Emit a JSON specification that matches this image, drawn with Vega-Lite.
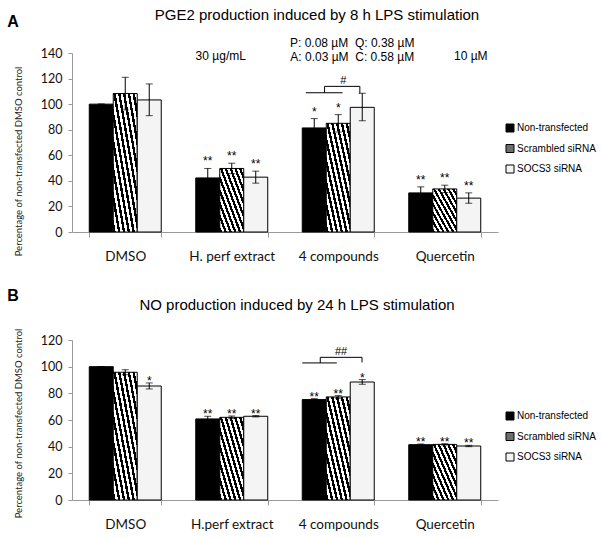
{
  "$schema": "https://vega.github.io/schema/vega-lite/v6.json",
  "background": "white",
  "padding": {"left": 7, "right": 5, "top": 8, "bottom": 5},
  "config": {"font": "Liberation Sans", "view": {"stroke": null}, "title": {"fontWeight": "normal", "color": "#000"}, "axisY": {"labelOverlap": false}},
  "datasets": {
    "a": [
      {"g": "DMSO", "s": "Non-transfected", "v": 100, "lo": 100, "hi": 100, "star": ""},
      {"g": "DMSO", "s": "Scrambled siRNA", "v": 108.3, "lo": 95.5, "hi": 121, "star": ""},
      {"g": "DMSO", "s": "SOCS3 siRNA", "v": 103.3, "lo": 91, "hi": 115.8, "star": ""},
      {"g": "H. perf extract", "s": "Non-transfected", "v": 42.3, "lo": 35, "hi": 49.7, "star": "**"},
      {"g": "H. perf extract", "s": "Scrambled siRNA", "v": 49.7, "lo": 45.6, "hi": 53.8, "star": "**"},
      {"g": "H. perf extract", "s": "SOCS3 siRNA", "v": 42.9, "lo": 38.2, "hi": 47.6, "star": "**"},
      {"g": "4 compounds", "s": "Non-transfected", "v": 81.4, "lo": 74, "hi": 88.7, "star": "*"},
      {"g": "4 compounds", "s": "Scrambled siRNA", "v": 85, "lo": 78.2, "hi": 91.8, "star": "*"},
      {"g": "4 compounds", "s": "SOCS3 siRNA", "v": 97.5, "lo": 87, "hi": 108.5, "star": ""},
      {"g": "Quercetin", "s": "Non-transfected", "v": 30.6, "lo": 26, "hi": 35.3, "star": "**"},
      {"g": "Quercetin", "s": "Scrambled siRNA", "v": 33.7, "lo": 30.8, "hi": 36.6, "star": "**"},
      {"g": "Quercetin", "s": "SOCS3 siRNA", "v": 26.5, "lo": 22.5, "hi": 30.6, "star": "**"}
    ],
    "b": [
      {"g": "DMSO", "s": "Non-transfected", "v": 100, "lo": 100, "hi": 100, "star": ""},
      {"g": "DMSO", "s": "Scrambled siRNA", "v": 95.8, "lo": 94, "hi": 97.7, "star": ""},
      {"g": "DMSO", "s": "SOCS3 siRNA", "v": 85.5, "lo": 83.3, "hi": 87.8, "star": "*"},
      {"g": "H.perf extract", "s": "Non-transfected", "v": 60.8, "lo": 58.8, "hi": 62.8, "star": "**"},
      {"g": "H.perf extract", "s": "Scrambled siRNA", "v": 62, "lo": 61, "hi": 63, "star": "**"},
      {"g": "H.perf extract", "s": "SOCS3 siRNA", "v": 62.8, "lo": 62.3, "hi": 63.3, "star": "**"},
      {"g": "4 compounds", "s": "Non-transfected", "v": 75.3, "lo": 74.5, "hi": 76, "star": "**"},
      {"g": "4 compounds", "s": "Scrambled siRNA", "v": 77.3, "lo": 76.3, "hi": 78.3, "star": "**"},
      {"g": "4 compounds", "s": "SOCS3 siRNA", "v": 88.5, "lo": 86.8, "hi": 90.3, "star": "*"},
      {"g": "Quercetin", "s": "Non-transfected", "v": 41.5, "lo": 41, "hi": 42, "star": "**"},
      {"g": "Quercetin", "s": "Scrambled siRNA", "v": 41.7, "lo": 41.2, "hi": 42.2, "star": "**"},
      {"g": "Quercetin", "s": "SOCS3 siRNA", "v": 40.5, "lo": 40, "hi": 41, "star": "**"}
    ],
    "annA": [
      {"g": "H. perf extract", "y": 137.4, "t": "30 µg/mL"},
      {"g": "4 compounds", "y": 147.6, "t": "P: 0.08 µM\u00a0\u00a0Q: 0.38 µM"},
      {"g": "4 compounds", "y": 136.7, "t": "A: 0.03 µM\u00a0\u00a0C: 0.58 µM"},
      {"g": "Quercetin", "y": 137.4, "t": "10 µM"}
    ],
    "brA": [{"g": "4 compounds", "base": 108.9, "top": 113.9, "foot": 108.3, "mark": "#", "my": 115.5}],
    "brB": [{"g": "4 compounds", "base": 102.8, "top": 107, "foot": 103.2, "mark": "##", "my": 108.6}]
  },
  "resolve": {"scale": {"x": "independent", "y": "independent"}, "legend": {"fill": "independent"}},
  "spacing": 25,
  "vconcat": [
    {
      "title": {"text": "A", "anchor": "start", "fontSize": 16, "fontWeight": "bold", "offset": -22, "dx": -6},
      "resolve": {"legend": {"fill": "independent"}},
      "vconcat": [
        {
          "title": {"text": "PGE2 production induced by 8 h LPS stimulation", "fontSize": 15, "dx": 32, "offset": 14},
          "width": 426,
          "height": 179,
          "layer": [
            {
              "data": {"name": "a"},
              "mark": {"type": "bar", "stroke": "#000", "strokeWidth": 1},
              "encoding": {
                "x": {"field": "g", "type": "nominal", "sort": null, "title": null,
                  "scale": {"paddingInner": 0.324, "paddingOuter": 0.162},
                  "axis": {"labelAngle": 0, "labelFont": "Lato", "labelFontSize": 13.5, "labelColor": "#111", "labelPadding": 12, "tickSize": 5, "tickBand": "extent", "domainColor": "#999", "tickColor": "#999"}},
                "xOffset": {"field": "s", "type": "nominal", "sort": ["Non-transfected", "Scrambled siRNA", "SOCS3 siRNA"], "scale": {"paddingInner": 0, "paddingOuter": 0}},
                "y": {"field": "v", "type": "quantitative", "scale": {"domain": [0, 140]},
                  "axis": {"values": [0, 20, 40, 60, 80, 100, 120, 140], "labelOverlap": false, "grid": false, "labelFont": "Lato", "labelFontSize": 12.5, "labelColor": "#111", "labelPadding": 6, "tickSize": 4, "domainColor": "#999", "tickColor": "#999", "title": "Percentage of non-transfected DMSO control", "titleFont": "Lato", "titleFontSize": 9.5, "titleFontWeight": "normal", "titleColor": "#222", "titlePadding": 17, "titleY": 108}},
                "fill": {
                  "condition": {"test": "datum.s === 'Scrambled siRNA'", "value": {"gradient": "linear", "x1": 0, "y1": 1, "x2": 1, "y2": 0, "stops": [
                    {"offset": 0, "color": "#000"}, {"offset": 0.05, "color": "#000"}, {"offset": 0.05, "color": "#fff"}, {"offset": 0.1, "color": "#fff"},
                    {"offset": 0.1, "color": "#000"}, {"offset": 0.15, "color": "#000"}, {"offset": 0.15, "color": "#fff"}, {"offset": 0.2, "color": "#fff"},
                    {"offset": 0.2, "color": "#000"}, {"offset": 0.25, "color": "#000"}, {"offset": 0.25, "color": "#fff"}, {"offset": 0.3, "color": "#fff"},
                    {"offset": 0.3, "color": "#000"}, {"offset": 0.35, "color": "#000"}, {"offset": 0.35, "color": "#fff"}, {"offset": 0.4, "color": "#fff"},
                    {"offset": 0.4, "color": "#000"}, {"offset": 0.45, "color": "#000"}, {"offset": 0.45, "color": "#fff"}, {"offset": 0.5, "color": "#fff"},
                    {"offset": 0.5, "color": "#000"}, {"offset": 0.55, "color": "#000"}, {"offset": 0.55, "color": "#fff"}, {"offset": 0.6, "color": "#fff"},
                    {"offset": 0.6, "color": "#000"}, {"offset": 0.65, "color": "#000"}, {"offset": 0.65, "color": "#fff"}, {"offset": 0.7, "color": "#fff"},
                    {"offset": 0.7, "color": "#000"}, {"offset": 0.75, "color": "#000"}, {"offset": 0.75, "color": "#fff"}, {"offset": 0.8, "color": "#fff"},
                    {"offset": 0.8, "color": "#000"}, {"offset": 0.85, "color": "#000"}, {"offset": 0.85, "color": "#fff"}, {"offset": 0.9, "color": "#fff"},
                    {"offset": 0.9, "color": "#000"}, {"offset": 0.95, "color": "#000"}, {"offset": 0.95, "color": "#fff"}, {"offset": 1, "color": "#fff"}]}},
                  "field": "s", "type": "nominal", "sort": ["Non-transfected", "Scrambled siRNA", "SOCS3 siRNA"],
                  "scale": {"domain": ["Non-transfected", "Scrambled siRNA", "SOCS3 siRNA"], "range": ["#000000", "#6e6e6e", "#f4f4f4"]},
                  "legend": {"title": null, "orient": "none", "legendX": 433, "legendY": 70, "symbolType": "square", "symbolSize": 64, "symbolStrokeColor": "#000", "symbolStrokeWidth": 1, "labelFontSize": 10, "labelColor": "#000", "labelOffset": 2, "rowPadding": 8.5}}
              }
            },
            {
              "data": {"name": "a"},
              "mark": {"type": "rule", "stroke": "#000", "strokeWidth": 1},
              "encoding": {
                "x": {"field": "g", "type": "nominal", "sort": null},
                "xOffset": {"field": "s", "type": "nominal", "sort": ["Non-transfected", "Scrambled siRNA", "SOCS3 siRNA"]},
                "y": {"field": "lo", "type": "quantitative",
                  "axis": {"values": [0, 20, 40, 60, 80, 100, 120, 140], "labelOverlap": false, "grid": false, "labelFont": "Lato", "labelFontSize": 12.5, "labelColor": "#111", "labelPadding": 6, "tickSize": 4, "domainColor": "#999", "tickColor": "#999", "title": "Percentage of non-transfected DMSO control", "titleFont": "Lato", "titleFontSize": 9.5, "titleFontWeight": "normal", "titleColor": "#222", "titlePadding": 17, "titleY": 108}},
                "y2": {"field": "hi"}
              }
            },
            {
              "data": {"name": "a"},
              "mark": {"type": "tick", "color": "#000", "thickness": 1, "size": 7, "orient": "horizontal"},
              "encoding": {
                "x": {"field": "g", "type": "nominal", "sort": null},
                "xOffset": {"field": "s", "type": "nominal", "sort": ["Non-transfected", "Scrambled siRNA", "SOCS3 siRNA"]},
                "y": {"field": "hi", "type": "quantitative",
                  "axis": {"values": [0, 20, 40, 60, 80, 100, 120, 140], "labelOverlap": false, "grid": false, "labelFont": "Lato", "labelFontSize": 12.5, "labelColor": "#111", "labelPadding": 6, "tickSize": 4, "domainColor": "#999", "tickColor": "#999", "title": "Percentage of non-transfected DMSO control", "titleFont": "Lato", "titleFontSize": 9.5, "titleFontWeight": "normal", "titleColor": "#222", "titlePadding": 17, "titleY": 108}}
              }
            },
            {
              "data": {"name": "a"},
              "mark": {"type": "tick", "color": "#000", "thickness": 1, "size": 7, "orient": "horizontal"},
              "encoding": {
                "x": {"field": "g", "type": "nominal", "sort": null},
                "xOffset": {"field": "s", "type": "nominal", "sort": ["Non-transfected", "Scrambled siRNA", "SOCS3 siRNA"]},
                "y": {"field": "lo", "type": "quantitative",
                  "axis": {"values": [0, 20, 40, 60, 80, 100, 120, 140], "labelOverlap": false, "grid": false, "labelFont": "Lato", "labelFontSize": 12.5, "labelColor": "#111", "labelPadding": 6, "tickSize": 4, "domainColor": "#999", "tickColor": "#999", "title": "Percentage of non-transfected DMSO control", "titleFont": "Lato", "titleFontSize": 9.5, "titleFontWeight": "normal", "titleColor": "#222", "titlePadding": 17, "titleY": 108}}
              }
            },
            {
              "data": {"name": "a"},
              "mark": {"type": "text", "fontSize": 12, "baseline": "alphabetic", "dy": -3},
              "encoding": {
                "x": {"field": "g", "type": "nominal", "sort": null},
                "xOffset": {"field": "s", "type": "nominal", "sort": ["Non-transfected", "Scrambled siRNA", "SOCS3 siRNA"]},
                "y": {"field": "hi", "type": "quantitative",
                  "axis": {"values": [0, 20, 40, 60, 80, 100, 120, 140], "labelOverlap": false, "grid": false, "labelFont": "Lato", "labelFontSize": 12.5, "labelColor": "#111", "labelPadding": 6, "tickSize": 4, "domainColor": "#999", "tickColor": "#999", "title": "Percentage of non-transfected DMSO control", "titleFont": "Lato", "titleFontSize": 9.5, "titleFontWeight": "normal", "titleColor": "#222", "titlePadding": 17, "titleY": 108}},
                "text": {"field": "star"}
              }
            },
            {
              "mark": {"type": "rule", "stroke": "#000", "strokeWidth": 1, "strokeDash": [3, 2]},
              "encoding": {
                "x": {"datum": "DMSO", "bandPosition": -0.24},
                "x2": {"datum": "Quercetin", "bandPosition": 1.02},
                "y": {"datum": 100,
                  "axis": {"values": [0, 20, 40, 60, 80, 100, 120, 140], "labelOverlap": false, "grid": false, "labelFont": "Lato", "labelFontSize": 12.5, "labelColor": "#111", "labelPadding": 6, "tickSize": 4, "domainColor": "#999", "tickColor": "#999", "title": "Percentage of non-transfected DMSO control", "titleFont": "Lato", "titleFontSize": 9.5, "titleFontWeight": "normal", "titleColor": "#222", "titlePadding": 17, "titleY": 108}}
              }
            },
            {
              "data": {"name": "annA"},
              "transform": [{"filter": "datum.g == 'H. perf extract'"}],
              "mark": {"type": "text", "fontSize": 12, "dx": -11, "baseline": "middle"},
              "encoding": {
                "x": {"field": "g", "type": "nominal", "sort": null},
                "y": {"field": "y", "type": "quantitative",
                  "axis": {"values": [0, 20, 40, 60, 80, 100, 120, 140], "labelOverlap": false, "grid": false, "labelFont": "Lato", "labelFontSize": 12.5, "labelColor": "#111", "labelPadding": 6, "tickSize": 4, "domainColor": "#999", "tickColor": "#999", "title": "Percentage of non-transfected DMSO control", "titleFont": "Lato", "titleFontSize": 9.5, "titleFontWeight": "normal", "titleColor": "#222", "titlePadding": 17, "titleY": 108}},
                "text": {"field": "t"}
              }
            },
            {
              "data": {"name": "annA"},
              "transform": [{"filter": "datum.g == '4 compounds'"}],
              "mark": {"type": "text", "fontSize": 12, "dx": 14, "baseline": "middle"},
              "encoding": {
                "x": {"field": "g", "type": "nominal", "sort": null},
                "y": {"field": "y", "type": "quantitative",
                  "axis": {"values": [0, 20, 40, 60, 80, 100, 120, 140], "labelOverlap": false, "grid": false, "labelFont": "Lato", "labelFontSize": 12.5, "labelColor": "#111", "labelPadding": 6, "tickSize": 4, "domainColor": "#999", "tickColor": "#999", "title": "Percentage of non-transfected DMSO control", "titleFont": "Lato", "titleFontSize": 9.5, "titleFontWeight": "normal", "titleColor": "#222", "titlePadding": 17, "titleY": 108}},
                "text": {"field": "t"}
              }
            },
            {
              "data": {"name": "annA"},
              "transform": [{"filter": "datum.g == 'Quercetin'"}],
              "mark": {"type": "text", "fontSize": 12, "dx": 26, "baseline": "middle"},
              "encoding": {
                "x": {"field": "g", "type": "nominal", "sort": null},
                "y": {"field": "y", "type": "quantitative",
                  "axis": {"values": [0, 20, 40, 60, 80, 100, 120, 140], "labelOverlap": false, "grid": false, "labelFont": "Lato", "labelFontSize": 12.5, "labelColor": "#111", "labelPadding": 6, "tickSize": 4, "domainColor": "#999", "tickColor": "#999", "title": "Percentage of non-transfected DMSO control", "titleFont": "Lato", "titleFontSize": 9.5, "titleFontWeight": "normal", "titleColor": "#222", "titlePadding": 17, "titleY": 108}},
                "text": {"field": "t"}
              }
            },
            {
              "data": {"name": "brA"},
              "mark": {"type": "rule", "stroke": "#000", "strokeWidth": 1},
              "encoding": {
                "x": {"field": "g", "type": "nominal", "sort": null, "bandPosition": 0.05},
                "x2": {"field": "g", "bandPosition": 0.56},
                "y": {"field": "base", "type": "quantitative",
                  "axis": {"values": [0, 20, 40, 60, 80, 100, 120, 140], "labelOverlap": false, "grid": false, "labelFont": "Lato", "labelFontSize": 12.5, "labelColor": "#111", "labelPadding": 6, "tickSize": 4, "domainColor": "#999", "tickColor": "#999", "title": "Percentage of non-transfected DMSO control", "titleFont": "Lato", "titleFontSize": 9.5, "titleFontWeight": "normal", "titleColor": "#222", "titlePadding": 17, "titleY": 108}}
              }
            },
            {
              "data": {"name": "brA"},
              "mark": {"type": "rule", "stroke": "#000", "strokeWidth": 1},
              "encoding": {
                "x": {"field": "g", "type": "nominal", "sort": null, "bandPosition": 0.31},
                "y": {"field": "base", "type": "quantitative",
                  "axis": {"values": [0, 20, 40, 60, 80, 100, 120, 140], "labelOverlap": false, "grid": false, "labelFont": "Lato", "labelFontSize": 12.5, "labelColor": "#111", "labelPadding": 6, "tickSize": 4, "domainColor": "#999", "tickColor": "#999", "title": "Percentage of non-transfected DMSO control", "titleFont": "Lato", "titleFontSize": 9.5, "titleFontWeight": "normal", "titleColor": "#222", "titlePadding": 17, "titleY": 108}},
                "y2": {"field": "top"}
              }
            },
            {
              "data": {"name": "brA"},
              "mark": {"type": "rule", "stroke": "#000", "strokeWidth": 1},
              "encoding": {
                "x": {"field": "g", "type": "nominal", "sort": null, "bandPosition": 0.31},
                "x2": {"field": "g", "bandPosition": 0.8},
                "y": {"field": "top", "type": "quantitative",
                  "axis": {"values": [0, 20, 40, 60, 80, 100, 120, 140], "labelOverlap": false, "grid": false, "labelFont": "Lato", "labelFontSize": 12.5, "labelColor": "#111", "labelPadding": 6, "tickSize": 4, "domainColor": "#999", "tickColor": "#999", "title": "Percentage of non-transfected DMSO control", "titleFont": "Lato", "titleFontSize": 9.5, "titleFontWeight": "normal", "titleColor": "#222", "titlePadding": 17, "titleY": 108}}
              }
            },
            {
              "data": {"name": "brA"},
              "mark": {"type": "rule", "stroke": "#000", "strokeWidth": 1},
              "encoding": {
                "x": {"field": "g", "type": "nominal", "sort": null, "bandPosition": 0.8},
                "y": {"field": "top", "type": "quantitative",
                  "axis": {"values": [0, 20, 40, 60, 80, 100, 120, 140], "labelOverlap": false, "grid": false, "labelFont": "Lato", "labelFontSize": 12.5, "labelColor": "#111", "labelPadding": 6, "tickSize": 4, "domainColor": "#999", "tickColor": "#999", "title": "Percentage of non-transfected DMSO control", "titleFont": "Lato", "titleFontSize": 9.5, "titleFontWeight": "normal", "titleColor": "#222", "titlePadding": 17, "titleY": 108}},
                "y2": {"field": "foot"}
              }
            },
            {
              "data": {"name": "brA"},
              "mark": {"type": "text", "fontSize": 11, "baseline": "alphabetic"},
              "encoding": {
                "x": {"field": "g", "type": "nominal", "sort": null, "bandPosition": 0.57},
                "y": {"field": "my", "type": "quantitative",
                  "axis": {"values": [0, 20, 40, 60, 80, 100, 120, 140], "labelOverlap": false, "grid": false, "labelFont": "Lato", "labelFontSize": 12.5, "labelColor": "#111", "labelPadding": 6, "tickSize": 4, "domainColor": "#999", "tickColor": "#999", "title": "Percentage of non-transfected DMSO control", "titleFont": "Lato", "titleFontSize": 9.5, "titleFontWeight": "normal", "titleColor": "#222", "titlePadding": 17, "titleY": 108}},
                "text": {"field": "mark"}
              }
            }
          ]
        }
      ]
    },
    {
      "title": {"text": "B", "anchor": "start", "fontSize": 16, "fontWeight": "bold", "offset": -6, "dx": -6},
      "resolve": {"legend": {"fill": "independent"}},
      "vconcat": [
        {
          "title": {"text": "NO production induced by 24 h LPS stimulation", "fontSize": 15, "dx": 12, "offset": 15},
          "width": 426,
          "height": 160,
          "layer": [
            {
              "data": {"name": "b"},
              "mark": {"type": "bar", "stroke": "#000", "strokeWidth": 1},
              "encoding": {
                "x": {"field": "g", "type": "nominal", "sort": null, "title": null,
                  "scale": {"paddingInner": 0.324, "paddingOuter": 0.162},
                  "axis": {"labelAngle": 0, "labelFont": "Lato", "labelFontSize": 13.5, "labelColor": "#111", "labelPadding": 12, "tickSize": 5, "tickBand": "extent", "domainColor": "#999", "tickColor": "#999"}},
                "xOffset": {"field": "s", "type": "nominal", "sort": ["Non-transfected", "Scrambled siRNA", "SOCS3 siRNA"], "scale": {"paddingInner": 0, "paddingOuter": 0}},
                "y": {"field": "v", "type": "quantitative", "scale": {"domain": [0, 120]},
                  "axis": {"values": [0, 20, 40, 60, 80, 100, 120], "labelOverlap": false, "grid": false, "labelFont": "Lato", "labelFontSize": 12.5, "labelColor": "#111", "labelPadding": 6, "tickSize": 4, "domainColor": "#999", "tickColor": "#999", "title": "Percentage of non-transfected DMSO control", "titleFont": "Lato", "titleFontSize": 9.5, "titleFontWeight": "normal", "titleColor": "#222", "titlePadding": 17, "titleY": 83}},
                "fill": {
                  "condition": {"test": "datum.s === 'Scrambled siRNA'", "value": {"gradient": "linear", "x1": 0, "y1": 1, "x2": 1, "y2": 0, "stops": [
                    {"offset": 0, "color": "#000"}, {"offset": 0.05, "color": "#000"}, {"offset": 0.05, "color": "#fff"}, {"offset": 0.1, "color": "#fff"},
                    {"offset": 0.1, "color": "#000"}, {"offset": 0.15, "color": "#000"}, {"offset": 0.15, "color": "#fff"}, {"offset": 0.2, "color": "#fff"},
                    {"offset": 0.2, "color": "#000"}, {"offset": 0.25, "color": "#000"}, {"offset": 0.25, "color": "#fff"}, {"offset": 0.3, "color": "#fff"},
                    {"offset": 0.3, "color": "#000"}, {"offset": 0.35, "color": "#000"}, {"offset": 0.35, "color": "#fff"}, {"offset": 0.4, "color": "#fff"},
                    {"offset": 0.4, "color": "#000"}, {"offset": 0.45, "color": "#000"}, {"offset": 0.45, "color": "#fff"}, {"offset": 0.5, "color": "#fff"},
                    {"offset": 0.5, "color": "#000"}, {"offset": 0.55, "color": "#000"}, {"offset": 0.55, "color": "#fff"}, {"offset": 0.6, "color": "#fff"},
                    {"offset": 0.6, "color": "#000"}, {"offset": 0.65, "color": "#000"}, {"offset": 0.65, "color": "#fff"}, {"offset": 0.7, "color": "#fff"},
                    {"offset": 0.7, "color": "#000"}, {"offset": 0.75, "color": "#000"}, {"offset": 0.75, "color": "#fff"}, {"offset": 0.8, "color": "#fff"},
                    {"offset": 0.8, "color": "#000"}, {"offset": 0.85, "color": "#000"}, {"offset": 0.85, "color": "#fff"}, {"offset": 0.9, "color": "#fff"},
                    {"offset": 0.9, "color": "#000"}, {"offset": 0.95, "color": "#000"}, {"offset": 0.95, "color": "#fff"}, {"offset": 1, "color": "#fff"}]}},
                  "field": "s", "type": "nominal", "sort": ["Non-transfected", "Scrambled siRNA", "SOCS3 siRNA"],
                  "scale": {"domain": ["Non-transfected", "Scrambled siRNA", "SOCS3 siRNA"], "range": ["#000000", "#6e6e6e", "#f4f4f4"]},
                  "legend": {"title": null, "orient": "none", "legendX": 433, "legendY": 71, "symbolType": "square", "symbolSize": 64, "symbolStrokeColor": "#000", "symbolStrokeWidth": 1, "labelFontSize": 10, "labelColor": "#000", "labelOffset": 2, "rowPadding": 8.5}}
              }
            },
            {
              "data": {"name": "b"},
              "mark": {"type": "rule", "stroke": "#000", "strokeWidth": 1},
              "encoding": {
                "x": {"field": "g", "type": "nominal", "sort": null},
                "xOffset": {"field": "s", "type": "nominal", "sort": ["Non-transfected", "Scrambled siRNA", "SOCS3 siRNA"]},
                "y": {"field": "lo", "type": "quantitative",
                  "axis": {"values": [0, 20, 40, 60, 80, 100, 120], "labelOverlap": false, "grid": false, "labelFont": "Lato", "labelFontSize": 12.5, "labelColor": "#111", "labelPadding": 6, "tickSize": 4, "domainColor": "#999", "tickColor": "#999", "title": "Percentage of non-transfected DMSO control", "titleFont": "Lato", "titleFontSize": 9.5, "titleFontWeight": "normal", "titleColor": "#222", "titlePadding": 17, "titleY": 83}},
                "y2": {"field": "hi"}
              }
            },
            {
              "data": {"name": "b"},
              "mark": {"type": "tick", "color": "#000", "thickness": 1, "size": 7, "orient": "horizontal"},
              "encoding": {
                "x": {"field": "g", "type": "nominal", "sort": null},
                "xOffset": {"field": "s", "type": "nominal", "sort": ["Non-transfected", "Scrambled siRNA", "SOCS3 siRNA"]},
                "y": {"field": "hi", "type": "quantitative",
                  "axis": {"values": [0, 20, 40, 60, 80, 100, 120], "labelOverlap": false, "grid": false, "labelFont": "Lato", "labelFontSize": 12.5, "labelColor": "#111", "labelPadding": 6, "tickSize": 4, "domainColor": "#999", "tickColor": "#999", "title": "Percentage of non-transfected DMSO control", "titleFont": "Lato", "titleFontSize": 9.5, "titleFontWeight": "normal", "titleColor": "#222", "titlePadding": 17, "titleY": 83}}
              }
            },
            {
              "data": {"name": "b"},
              "mark": {"type": "tick", "color": "#000", "thickness": 1, "size": 7, "orient": "horizontal"},
              "encoding": {
                "x": {"field": "g", "type": "nominal", "sort": null},
                "xOffset": {"field": "s", "type": "nominal", "sort": ["Non-transfected", "Scrambled siRNA", "SOCS3 siRNA"]},
                "y": {"field": "lo", "type": "quantitative",
                  "axis": {"values": [0, 20, 40, 60, 80, 100, 120], "labelOverlap": false, "grid": false, "labelFont": "Lato", "labelFontSize": 12.5, "labelColor": "#111", "labelPadding": 6, "tickSize": 4, "domainColor": "#999", "tickColor": "#999", "title": "Percentage of non-transfected DMSO control", "titleFont": "Lato", "titleFontSize": 9.5, "titleFontWeight": "normal", "titleColor": "#222", "titlePadding": 17, "titleY": 83}}
              }
            },
            {
              "data": {"name": "b"},
              "mark": {"type": "text", "fontSize": 12, "baseline": "alphabetic", "dy": 2},
              "encoding": {
                "x": {"field": "g", "type": "nominal", "sort": null},
                "xOffset": {"field": "s", "type": "nominal", "sort": ["Non-transfected", "Scrambled siRNA", "SOCS3 siRNA"]},
                "y": {"field": "hi", "type": "quantitative",
                  "axis": {"values": [0, 20, 40, 60, 80, 100, 120], "labelOverlap": false, "grid": false, "labelFont": "Lato", "labelFontSize": 12.5, "labelColor": "#111", "labelPadding": 6, "tickSize": 4, "domainColor": "#999", "tickColor": "#999", "title": "Percentage of non-transfected DMSO control", "titleFont": "Lato", "titleFontSize": 9.5, "titleFontWeight": "normal", "titleColor": "#222", "titlePadding": 17, "titleY": 83}},
                "text": {"field": "star"}
              }
            },
            {
              "mark": {"type": "rule", "stroke": "#000", "strokeWidth": 1, "strokeDash": [3, 2]},
              "encoding": {
                "x": {"datum": "DMSO", "bandPosition": -0.24},
                "x2": {"datum": "Quercetin", "bandPosition": 1.02},
                "y": {"datum": 100,
                  "axis": {"values": [0, 20, 40, 60, 80, 100, 120], "labelOverlap": false, "grid": false, "labelFont": "Lato", "labelFontSize": 12.5, "labelColor": "#111", "labelPadding": 6, "tickSize": 4, "domainColor": "#999", "tickColor": "#999", "title": "Percentage of non-transfected DMSO control", "titleFont": "Lato", "titleFontSize": 9.5, "titleFontWeight": "normal", "titleColor": "#222", "titlePadding": 17, "titleY": 83}}
              }
            },
            {
              "data": {"name": "brB"},
              "mark": {"type": "rule", "stroke": "#000", "strokeWidth": 1},
              "encoding": {
                "x": {"field": "g", "type": "nominal", "sort": null, "bandPosition": 0.0},
                "x2": {"field": "g", "bandPosition": 0.48},
                "y": {"field": "base", "type": "quantitative",
                  "axis": {"values": [0, 20, 40, 60, 80, 100, 120], "labelOverlap": false, "grid": false, "labelFont": "Lato", "labelFontSize": 12.5, "labelColor": "#111", "labelPadding": 6, "tickSize": 4, "domainColor": "#999", "tickColor": "#999", "title": "Percentage of non-transfected DMSO control", "titleFont": "Lato", "titleFontSize": 9.5, "titleFontWeight": "normal", "titleColor": "#222", "titlePadding": 17, "titleY": 83}}
              }
            },
            {
              "data": {"name": "brB"},
              "mark": {"type": "rule", "stroke": "#000", "strokeWidth": 1},
              "encoding": {
                "x": {"field": "g", "type": "nominal", "sort": null, "bandPosition": 0.25},
                "y": {"field": "base", "type": "quantitative",
                  "axis": {"values": [0, 20, 40, 60, 80, 100, 120], "labelOverlap": false, "grid": false, "labelFont": "Lato", "labelFontSize": 12.5, "labelColor": "#111", "labelPadding": 6, "tickSize": 4, "domainColor": "#999", "tickColor": "#999", "title": "Percentage of non-transfected DMSO control", "titleFont": "Lato", "titleFontSize": 9.5, "titleFontWeight": "normal", "titleColor": "#222", "titlePadding": 17, "titleY": 83}},
                "y2": {"field": "top"}
              }
            },
            {
              "data": {"name": "brB"},
              "mark": {"type": "rule", "stroke": "#000", "strokeWidth": 1},
              "encoding": {
                "x": {"field": "g", "type": "nominal", "sort": null, "bandPosition": 0.25},
                "x2": {"field": "g", "bandPosition": 0.83},
                "y": {"field": "top", "type": "quantitative",
                  "axis": {"values": [0, 20, 40, 60, 80, 100, 120], "labelOverlap": false, "grid": false, "labelFont": "Lato", "labelFontSize": 12.5, "labelColor": "#111", "labelPadding": 6, "tickSize": 4, "domainColor": "#999", "tickColor": "#999", "title": "Percentage of non-transfected DMSO control", "titleFont": "Lato", "titleFontSize": 9.5, "titleFontWeight": "normal", "titleColor": "#222", "titlePadding": 17, "titleY": 83}}
              }
            },
            {
              "data": {"name": "brB"},
              "mark": {"type": "rule", "stroke": "#000", "strokeWidth": 1},
              "encoding": {
                "x": {"field": "g", "type": "nominal", "sort": null, "bandPosition": 0.83},
                "y": {"field": "top", "type": "quantitative",
                  "axis": {"values": [0, 20, 40, 60, 80, 100, 120], "labelOverlap": false, "grid": false, "labelFont": "Lato", "labelFontSize": 12.5, "labelColor": "#111", "labelPadding": 6, "tickSize": 4, "domainColor": "#999", "tickColor": "#999", "title": "Percentage of non-transfected DMSO control", "titleFont": "Lato", "titleFontSize": 9.5, "titleFontWeight": "normal", "titleColor": "#222", "titlePadding": 17, "titleY": 83}},
                "y2": {"field": "foot"}
              }
            },
            {
              "data": {"name": "brB"},
              "mark": {"type": "text", "fontSize": 11, "baseline": "alphabetic"},
              "encoding": {
                "x": {"field": "g", "type": "nominal", "sort": null, "bandPosition": 0.54},
                "y": {"field": "my", "type": "quantitative",
                  "axis": {"values": [0, 20, 40, 60, 80, 100, 120], "labelOverlap": false, "grid": false, "labelFont": "Lato", "labelFontSize": 12.5, "labelColor": "#111", "labelPadding": 6, "tickSize": 4, "domainColor": "#999", "tickColor": "#999", "title": "Percentage of non-transfected DMSO control", "titleFont": "Lato", "titleFontSize": 9.5, "titleFontWeight": "normal", "titleColor": "#222", "titlePadding": 17, "titleY": 83}},
                "text": {"field": "mark"}
              }
            }
          ]
        }
      ]
    }
  ]
}
